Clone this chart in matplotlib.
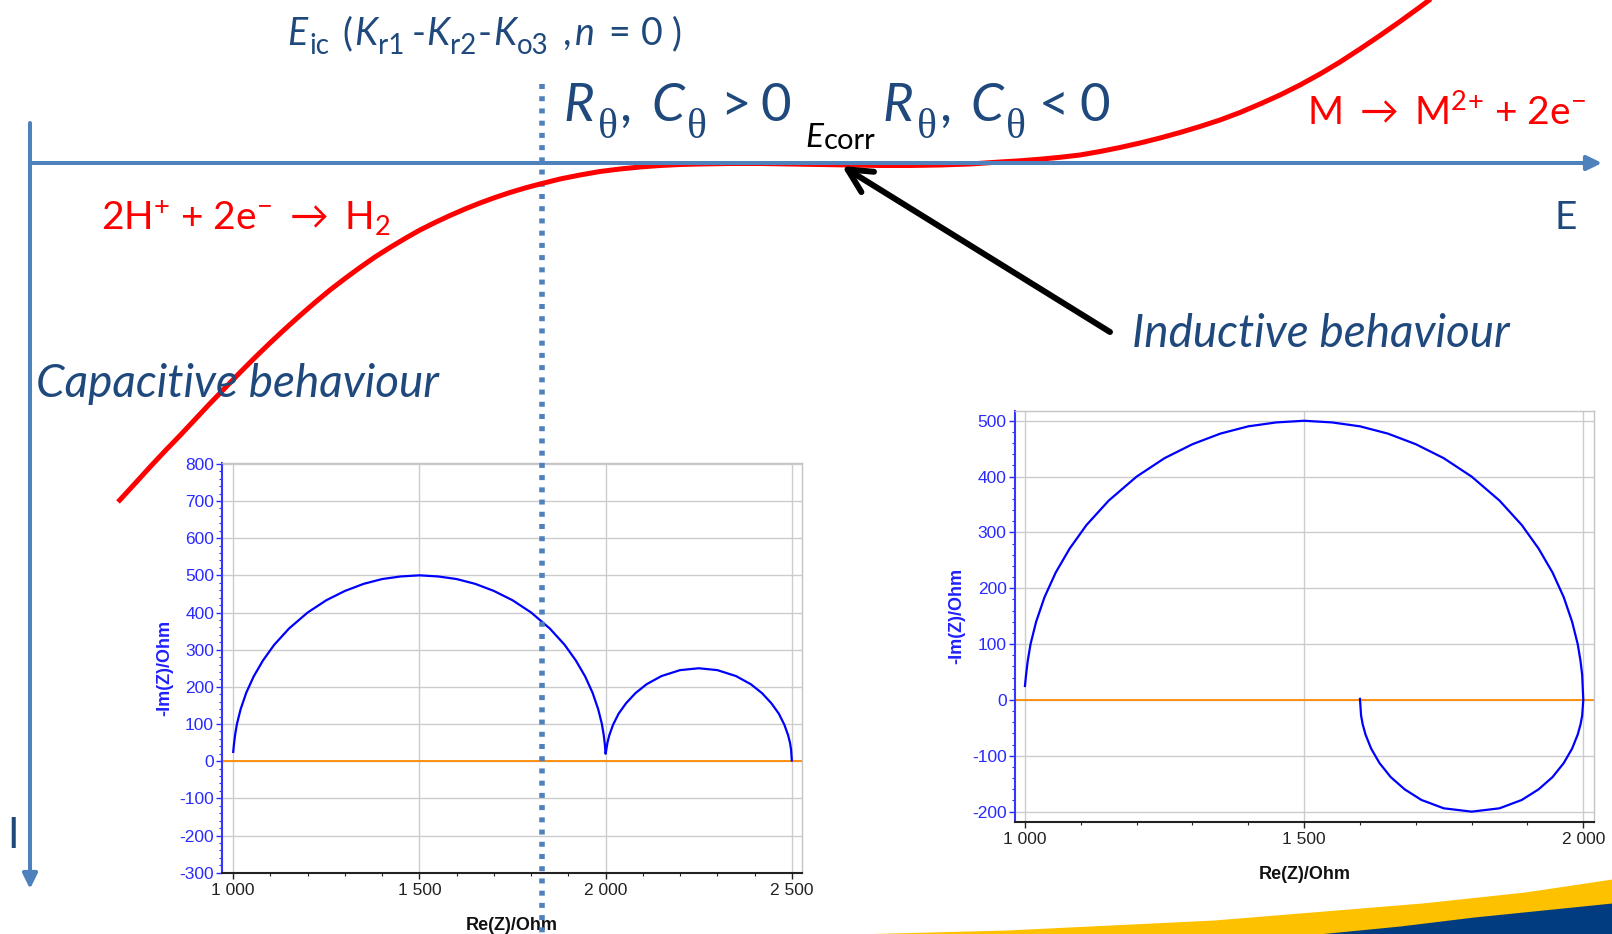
import matplotlib
matplotlib.use("Agg")
import matplotlib.pyplot as plt
from matplotlib.ticker import MultipleLocator, FuncFormatter
from matplotlib.patches import ArrowStyle

plt.rcParams["mathtext.fontset"] = "custom"
plt.rcParams["mathtext.rm"] = "Lato"
plt.rcParams["mathtext.it"] = "Lato:italic"
plt.rcParams["mathtext.bf"] = "Lato:bold"
plt.rcParams["mathtext.fallback"] = "stix"

# ---------------------------------------------------------------- data
# Polarisation curve (schematic): potential offset along the E axis and
# current offset along the I axis (I axis points downwards).
pol_E = [88, 105, 120, 135, 150, 165, 180, 195, 210, 225, 240, 255, 270,
         285, 300, 315, 330, 345, 360, 375, 390, 405, 420, 435, 450, 465,
         480, 495, 510, 530, 550, 570, 590, 610, 630, 650, 670, 700, 730,
         760, 790, 820, 850, 880, 910, 940, 970, 990, 1010, 1030, 1050,
         1070, 1090, 1110, 1130, 1150, 1170, 1190, 1210, 1230, 1250, 1270,
         1290, 1310, 1330, 1350, 1370, 1390, 1410]
pol_I = [339, 320.5, 304, 288, 272.5, 256.5, 240.5, 225, 209.5, 194.5, 180,
         166, 152.5, 139.5, 127, 115.5, 104.5, 94, 84.5, 75.5, 67, 59.5,
         52.5, 46, 40, 34.5, 29.5, 25, 21, 16, 12, 8.5, 6, 4, 2.5, 1.5, 1,
         0.5, 0.5, 1, 1.5, 2, 2.5, 2.5, 2, 1, -1, -2.2, -3.8, -5.7, -8,
         -11.5, -15.5, -20, -25, -30.5, -36.5, -43, -50.5, -59, -68, -78,
         -89, -101, -114, -127.5, -141.5, -156, -171]
E_ic = 512          # potential of the dotted marker line

# Nyquist plot 1: two capacitive loops
re_cap = [1000, 1002, 1005, 1010, 1020, 1035, 1055, 1080, 1110, 1150, 1200,
          1250, 1300, 1350, 1400, 1450, 1500, 1550, 1600, 1650, 1700, 1750,
          1800, 1850, 1890, 1920, 1945, 1965, 1980, 1990, 1995, 1998, 2000,
          2002, 2005, 2010, 2020, 2035, 2055, 2080, 2110, 2150, 2200, 2250,
          2300, 2350, 2390, 2420, 2445, 2465, 2480, 2490, 2495, 2498, 2500]
im_cap = [25, 45, 70, 100, 140, 184, 228, 271, 313, 357, 400,
          433, 458, 477, 490, 497, 500, 497, 490, 477, 458, 433,
          400, 357, 313, 271, 228, 184, 140, 100, 70, 45, 20,
          32, 50, 70, 98, 128, 156, 183, 207, 229, 245, 250,
          245, 229, 207, 183, 156, 128, 98, 70, 50, 32, 2]

# Nyquist plot 2: capacitive loop followed by an inductive loop
re_ind = [1000, 1002, 1005, 1010, 1020, 1035, 1055, 1080, 1110, 1150, 1200,
          1250, 1300, 1350, 1400, 1450, 1500, 1550, 1600, 1650, 1700, 1750,
          1800, 1850, 1890, 1920, 1945, 1965, 1980, 1990, 1995, 1998, 2000,
          1998, 1995, 1990, 1980, 1965, 1945, 1920, 1890, 1850, 1800, 1750,
          1710, 1680, 1655, 1635, 1620, 1610, 1605, 1602, 1600]
im_ind = [25, 45, 70, 100, 140, 184, 228, 271, 313, 357, 400,
          433, 458, 477, 490, 497, 500, 497, 490, 477, 458, 433,
          400, 357, 313, 271, 228, 184, 140, 100, 70, 45, 0,
          -28, -44, -62, -87, -113, -138, -160, -179, -194, -200, -194,
          -179, -160, -138, -113, -87, -62, -44, -28, 2]

# Footer band outlines (page pixels)
band_gold_x = [853, 1007, 1214, 1422, 1525, 1612]
band_gold_y = [934, 930, 920, 903, 892, 879]
band_navy_x = [1318, 1400, 1474, 1612]
band_navy_y = [934, 926, 917, 903]

# ---------------------------------------------------------------- style
W, H = 1612, 934
OX, OY = 30, 163            # page position of the E/I axes crossing
AXIS_BLUE = "#4F81BD"
TEXT_BLUE = "#1F497D"
RED = "#FF0000"
FAM = ["Lato", "DejaVu Sans"]
IT = dict(style="italic")
REG = dict()
SERIF = dict(family=["Liberation Serif", "DejaVu Serif"])

fig = plt.figure(figsize=(W / 100, H / 100), dpi=100)
renderer = fig.canvas.get_renderer()

# background layer with the footer bands
bg = fig.add_axes([0, 0, 1, 1], zorder=0)
bg.set_xlim(0, W)
bg.set_ylim(H, 0)
bg.axis("off")
bg.fill_between(band_gold_x, band_gold_y, H, color="#FDC100", lw=0)
bg.fill_between(band_navy_x, band_navy_y, H, color="#023C80", lw=0)


def thousands(v, pos):
    return f"{int(round(v)):,}".replace(",", " ")


def plain_int(v, pos):
    return f"{int(round(v))}"


def nyquist(rect, xlim, ylim, re, im):
    ax = fig.add_axes(rect, zorder=1)
    ax.set_xlim(*xlim)
    ax.set_ylim(*ylim)
    ax.set_axisbelow(True)
    ax.xaxis.set_major_locator(MultipleLocator(500))
    ax.xaxis.set_minor_locator(MultipleLocator(100))
    ax.yaxis.set_major_locator(MultipleLocator(100))
    ax.yaxis.set_minor_locator(MultipleLocator(20))
    ax.xaxis.set_major_formatter(FuncFormatter(thousands))
    ax.yaxis.set_major_formatter(FuncFormatter(plain_int))
    ax.grid(True, which="major", color="#CCCCCC", lw=1.0)
    ax.axhline(0, color="#FF8A00", lw=1.3, zorder=2)
    ax.plot(re, im, color="#0000FF", lw=1.6, zorder=3)
    ax.spines["left"].set_color("#3535FF")
    ax.spines["left"].set_linewidth(1.5)
    ax.spines["bottom"].set_color("#222222")
    ax.spines["bottom"].set_linewidth(1.5)
    for s in ("top", "right"):
        ax.spines[s].set_color("#C4C4C4")
        ax.spines[s].set_linewidth(1.0)
    ax.tick_params(axis="y", which="major", length=4.5, width=1.0,
                   colors="#2A2AFF", pad=1.5, labelsize=12.5)
    ax.tick_params(axis="y", which="minor", length=2.5, width=0.8,
                   colors="#2A2AFF")
    ax.tick_params(axis="x", which="major", length=4, width=1.0,
                   colors="#222222", pad=3.5, labelsize=12.5)
    ax.tick_params(axis="x", which="minor", length=2.5, width=0.8,
                   colors="#222222")
    for lab in ax.get_xticklabels() + ax.get_yticklabels():
        lab.set_family("Liberation Sans")
    ax.set_xlabel("Re(Z)/Ohm", family="Liberation Sans", fontweight="bold",
                  fontsize=13, color="#111111", labelpad=13.5)
    ax.set_ylabel("-Im(Z)/Ohm", family="Liberation Sans", fontweight="bold",
                  fontsize=13, color="#2020FF", labelpad=4.5)
    return ax


nyquist([222.4 / W, 1 - 872.7 / H, 579.1 / W, 410 / H],
        (971, 2526), (-300, 803), re_cap, im_cap)
nyquist([1014.9 / W, 1 - 821.7 / H, 579.0 / W, 411 / H],
        (982, 2019), (-218, 518), re_ind, im_ind)

# foreground layer: E-I diagram (origin at the axes crossing, I downwards)
ov = fig.add_axes([0, 0, 1, 1], zorder=3)
ov.set_xlim(-OX, W - OX)
ov.set_ylim(H - OY, -OY)
ov.axis("off")
ov.set_facecolor("none")

axis_arrow = dict(arrowstyle=ArrowStyle("-|>", head_length=0.45,
                                        head_width=0.22),
                  mutation_scale=20, lw=2.9, color=AXIS_BLUE,
                  shrinkA=0, shrinkB=0)
ov.annotate("", xy=(1572, 0), xytext=(0, 0), arrowprops=axis_arrow)
ov.annotate("", xy=(0, 726), xytext=(0, -40), arrowprops=axis_arrow)

ov.plot([E_ic, E_ic], [-79, H - OY], color=AXIS_BLUE, lw=4.0,
        linestyle=(0, (0.9, 1.3)), dash_capstyle="butt")

ov.plot(pol_E, pol_I, color=RED, lw=3.6, solid_capstyle="butt",
        solid_joinstyle="round")

ov.annotate("", xy=(812, 3), xytext=(1080, 169),
            arrowprops=dict(arrowstyle=ArrowStyle("->", head_length=0.85,
                                                  head_width=0.43),
                            mutation_scale=20, lw=4.3, color="black",
                            shrinkA=0, shrinkB=0))


def flow(baseline, items, color):
    """Lay out text runs left to right on one baseline.

    Each item is (x, text, size, style, drop): a number x starts the run
    at that page position, a string "+n" starts it n pixels after the
    previous run."""
    cursor = 0.0
    for x, s, size, kw, drop in items:
        if isinstance(x, str):
            x = cursor + float(x)
        opts = dict(family=FAM, va="baseline", ha="left", color=color,
                    fontsize=size)
        opts.update(kw)
        t = ov.text(x - OX, baseline - OY + drop, s, **opts)
        cursor = x + t.get_window_extent(renderer).width


flow(45, [(287, "E", 27, IT, 0), ("+2", "ic", 20, REG, 9),
          (342, "(", 27, REG, 0), ("+2", "K", 27, IT, 0),
          ("+1", "r1", 20, REG, 9), ("+7", "-", 27, REG, 0),
          ("+1", "K", 27, IT, 0), ("+1", "r2", 20, REG, 9),
          ("+1", "-", 27, REG, 0), ("+1", "K", 27, IT, 0),
          ("+1", "o3", 20, REG, 9), (563, ",", 27, REG, 0),
          (575, "n", 27, IT, 0), (608, "=", 27, REG, 0),
          (641, "0", 27, REG, 0), ("+9", ")", 27, REG, 0)], TEXT_BLUE)

for dx, rel in ((0, ">"), (319, "<")):
    flow(121, [(563 + dx, "R", 38, IT, 0), ("+4", "θ", 30, SERIF, 17),
               ("+2", ",", 38, REG, 0), (651 + dx, "C", 38, IT, 0),
               ("+3", "θ", 30, SERIF, 17), (720 + dx, rel, 38, REG, 0),
               (760 + dx, "0", 38, REG, 0)], TEXT_BLUE)

flow(147, [(805, "E", 24, IT, 0), ("+1", "corr", 21, REG, 2)], "black")

txt = dict(family=FAM, va="baseline", ha="left")
ov.text(101 - OX, 230 - OY,
        r"2H$^{+}$ + 2e$^{-}$ $\rightarrow$ H$_{2}$",
        fontsize=28, color=RED, **txt)
ov.text(1307 - OX, 125 - OY,
        r"M $\rightarrow$ M$^{2}$$^{+}$ + 2e$^{-}$",
        fontsize=28, color=RED, **txt)
ov.text(36 - OX, 397 - OY, "Capacitive behaviour", fontsize=33,
        style="italic", color=TEXT_BLUE, **txt)
ov.text(1132 - OX, 347 - OY, "Inductive behaviour", fontsize=33,
        style="italic", color=TEXT_BLUE, **txt)
ov.text(1555 - OX, 229 - OY, "E", fontsize=28, color=TEXT_BLUE, **txt)
ov.text(7 - OX, 848 - OY, "I", fontsize=30, color=TEXT_BLUE, **txt)

fig.savefig("out.png", dpi=100)
